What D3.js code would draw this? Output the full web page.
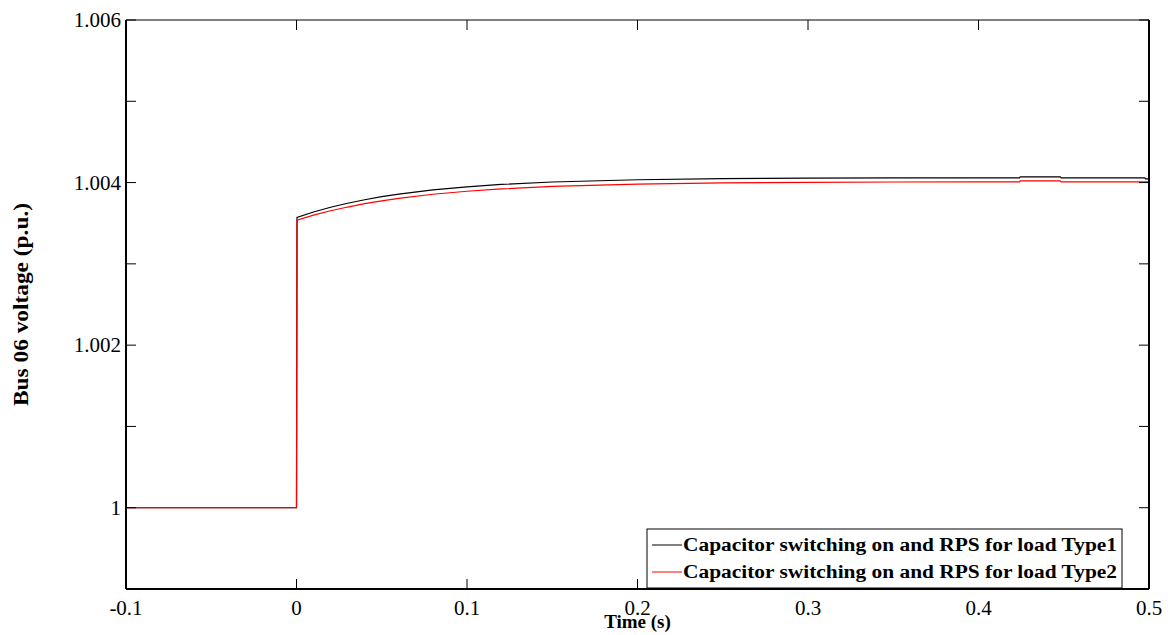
<!DOCTYPE html>
<html>
<head>
<meta charset="utf-8">
<script src="https://cdn.jsdelivr.net/npm/d3@7"></script>
<style>
  body { margin: 0; background: #fff; }
  svg { display: block; font-family: "Liberation Serif", "Times New Roman", serif; }
</style>
</head>
<body>
<svg id="chart" width="1168" height="635"></svg>
<script>
// values
var time = [-0.1, 0, 0.0003, 0.01, 0.02, 0.03, 0.04, 0.05, 0.06, 0.08, 0.10, 0.12, 0.15,
            0.20, 0.25, 0.30, 0.35, 0.40, 0.424, 0.4245, 0.448, 0.4485, 0.4975, 0.498, 0.5];
var voltType1 = [1.0, 1.0, 1.003570, 1.003638, 1.003696, 1.003746, 1.003789, 1.003826, 1.003858,
                 1.003910, 1.003948, 1.003977, 1.004007, 1.004035, 1.004048, 1.004054, 1.004057,
                 1.004059, 1.004059, 1.004071, 1.004071, 1.004059, 1.004059, 1.004045, 1.004045];
var voltType2 = [1.0, 1.0, 1.003537, 1.003599, 1.003653, 1.003699, 1.003740, 1.003775, 1.003806,
                 1.003856, 1.003893, 1.003922, 1.003952, 1.003981, 1.003996, 1.004003, 1.004007,
                 1.004008, 1.004008, 1.004020, 1.004020, 1.004008, 1.004008, 1.004008, 1.004008];
var seriesNames = ["Capacitor switching on and RPS for load Type1",
                   "Capacitor switching on and RPS for load Type2"];
var seriesColors = ["#000000", "#ff0000"];
var xTicks = [-0.1, 0, 0.1, 0.2, 0.3, 0.4, 0.5];
var xTickLabels = ["-0.1", "0", "0.1", "0.2", "0.3", "0.4", "0.5"];
var yTicks = [0.999, 1.000, 1.001, 1.002, 1.003, 1.004, 1.005, 1.006];
var yLabels = {"1.000": "1", "1.002": "1.002", "1.004": "1.004", "1.006": "1.006"};

(function() {
    var pLeft = 126, pRight = 1149, pTop = 20, pBottom = 589;
    var tickLen = 10;

    var svg = d3.select("#chart");

    var x = d3.scaleLinear().domain([-0.1, 0.5]).range([pLeft, pRight]);
    var y = d3.scaleLinear().domain([0.999, 1.006]).range([pBottom, pTop]);

    // data lines
    var line = d3.line()
        .x(function(d) { return x(d[0]); })
        .y(function(d) { return y(d[1]); });

    [voltType1, voltType2].forEach(function(vals, i) {
        svg.append("path")
            .datum(time.map(function(t, j) { return [t, vals[j]]; }))
            .attr("d", line)
            .attr("fill", "none")
            .attr("stroke", seriesColors[i])
            .attr("stroke-width", 1.2);
    });

    // ticks on all four sides, pointing inward
    var tickG = svg.append("g").attr("stroke", "#000").attr("stroke-width", 1);
    xTicks.forEach(function(t) {
        tickG.append("line").attr("x1", x(t)).attr("x2", x(t)).attr("y1", pBottom).attr("y2", pBottom - tickLen);
        tickG.append("line").attr("x1", x(t)).attr("x2", x(t)).attr("y1", pTop).attr("y2", pTop + tickLen);
    });
    yTicks.forEach(function(v) {
        tickG.append("line").attr("x1", pLeft).attr("x2", pLeft + tickLen).attr("y1", y(v)).attr("y2", y(v));
        tickG.append("line").attr("x1", pRight).attr("x2", pRight - tickLen).attr("y1", y(v)).attr("y2", y(v));
    });

    // axis box
    svg.append("line").attr("x1", pLeft).attr("x2", pRight).attr("y1", pTop).attr("y2", pTop)
        .attr("stroke", "#000").attr("stroke-width", 1.2);
    svg.append("line").attr("x1", pLeft).attr("x2", pRight).attr("y1", pBottom).attr("y2", pBottom)
        .attr("stroke", "#000").attr("stroke-width", 2);
    svg.append("line").attr("x1", pLeft).attr("x2", pLeft).attr("y1", pTop).attr("y2", pBottom)
        .attr("stroke", "#000").attr("stroke-width", 2);
    svg.append("line").attr("x1", pRight).attr("x2", pRight).attr("y1", pTop).attr("y2", pBottom)
        .attr("stroke", "#000").attr("stroke-width", 2);

    // tick labels
    svg.selectAll(".xlab")
        .data(xTicks)
        .enter().append("text")
        .attr("class", "xlab")
        .attr("x", function(d) { return x(d); })
        .attr("y", 615)
        .attr("text-anchor", "middle")
        .attr("font-size", 21)
        .text(function(d, i) { return xTickLabels[i]; });

    svg.selectAll(".ylab")
        .data(yTicks.filter(function(v) { return yLabels[v.toFixed(3)]; }))
        .enter().append("text")
        .attr("class", "ylab")
        .attr("x", pLeft - 5)
        .attr("y", function(d) { return y(d); })
        .attr("dy", "0.35em")
        .attr("text-anchor", "end")
        .attr("font-size", 21)
        .text(function(d) { return yLabels[d.toFixed(3)]; });

    // axis titles
    svg.append("text")
        .attr("x", (pLeft + pRight) / 2)
        .attr("y", 628)
        .attr("text-anchor", "middle")
        .attr("font-size", 19)
        .attr("font-weight", "bold")
        .text("Time (s)");

    svg.append("text")
        .attr("transform", "translate(28," + ((pTop + pBottom) / 2) + ") rotate(-90)")
        .attr("text-anchor", "middle")
        .attr("font-size", 21)
        .attr("font-weight", "bold")
        .attr("textLength", 203).attr("lengthAdjust", "spacingAndGlyphs")
        .text("Bus 06 voltage (p.u.)");

    // legend
    var lg = svg.append("g").attr("transform", "translate(647,529)");
    lg.append("rect")
        .attr("width", 475).attr("height", 59)
        .attr("fill", "#fff").attr("stroke", "#000").attr("stroke-width", 1);
    seriesNames.forEach(function(name, i) {
        var cy = 16 + i * 27;
        lg.append("line")
            .attr("x1", 5).attr("x2", 35).attr("y1", cy).attr("y2", cy)
            .attr("stroke", seriesColors[i]).attr("stroke-width", 1);
        lg.append("text")
            .attr("x", 36).attr("y", cy).attr("dy", "0.35em")
            .attr("font-size", 18).attr("font-weight", "bold")
            .attr("textLength", 434).attr("lengthAdjust", "spacingAndGlyphs")
            .text(name);
    });
})();
</script>
</body>
</html>
